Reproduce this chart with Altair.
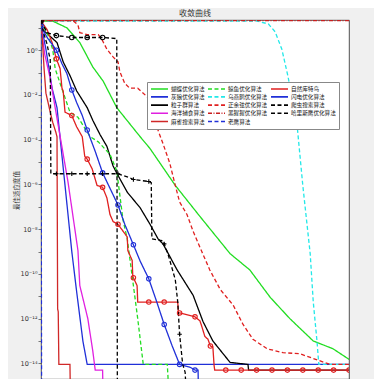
import altair as alt
import pandas as pd

# ---- series names (legend fills column by column, 3 columns) ----
names = ["蝴蝶优化算法", "灰狼优化算法", "粒子群算法", "海洋捕食算法", "麻雀搜索算法",
         "鲸鱼优化算法", "乌燕鸥优化算法", "正余弦优化算法", "黑猩猩优化算法", "老鹰算法",
         "自然库特鸟", "闪电优化算法", "爬虫搜索算法", "哈里斯鹰优化算法"]
colors = ["#22dd22", "#2030d8", "#000000", "#e020e0", "#d02828",
          "#22dd22", "#22e8e8", "#e02020", "#c81e1e", "#2030d8",
          "#e02020", "#2030d8", "#000000", "#000000"]
SOLID, DASH, DASHDOT = [1, 0], [4, 2.5], [4, 1.5, 1, 1.5]
dashes = [SOLID, SOLID, SOLID, SOLID, SOLID,
          DASH, DASH, DASH, DASHDOT, DASH,
          SOLID, SOLID, DASH, DASH]
marker_names = ["自然库特鸟", "闪电优化算法", "爬虫搜索算法", "哈里斯鹰优化算法"]
PLUS = "M-1,0L1,0M0,-1L0,1"
marker_shapes = ["circle", "circle", "circle", PLUS]

# ---- convergence data (iteration, best fitness) ----
butterfly_it = [0, 19, 42, 63, 84, 101, 123, 161, 177, 218, 258, 307, 339, 372, 404, 442, 474, 498, 500]
butterfly_val = [20, 20, 10, 2.2, 0.18, 0.041, 0.0027, 1.35e-4, 4e-5, 9e-7, 3.7e-8, 8e-10, 1.5e-10, 9e-12,
                 1e-12, 1e-13, 4.5e-14, 1.65e-14, 1.5e-14]

wolf_it = [0, 8, 18, 26, 39, 50, 58, 68, 75, 500]
wolf_val = [15, 1.1, 0.02, 0.0027, 9e-7, 1e-9, 1.5e-11, 1e-13, 9e-15, 9e-15]

pso_it = [0, 3, 26, 36, 47, 58, 75, 84, 96, 107, 117, 125, 140, 161, 177, 190, 198, 221, 247, 263, 279, 307,
          336, 337, 500]
pso_val = [20, 8.2, 2.2, 0.30, 0.074, 0.015, 0.0027, 7.4e-4, 1.65e-4, 5e-5, 6.7e-6, 2.5e-6, 4.5e-7, 9e-8,
           1.65e-8, 3.7e-9, 2.2e-9, 1.5e-10, 1.1e-11, 7.4e-13, 1e-13, 1.1e-14, 9e-15, 5e-15, 5e-15]

marine_it = [0, 6, 15, 23, 44, 60, 63, 76, 84, 88, 100, 101, 500]
marine_val = [12, 0.67, 0.055, 0.0027, 1.2e-6, 1.1e-9, 3e-11, 1e-12, 3.7e-14, 5e-15, 5e-15, 1e-16, 1e-16]

sparrow_it = [0, 2, 5, 8, 15, 19, 24, 26, 27, 28, 29, 47, 48, 500]
sparrow_val = [20, 3.7, 0.15, 0.012, 0.0017, 6e-4, 2.2e-4, 1.35e-4, 2.7e-12, 2e-12, 9e-15, 9e-15, 1e-16, 1e-16]

whale_it = [0, 11, 19, 23, 31, 47, 60, 80, 93, 112, 123, 133, 140, 150, 157, 166, 205, 209, 500]
whale_val = [20, 5, 1.1, 0.15, 0.033, 0.0017, 1e-3, 1.35e-4, 8e-5, 2.2e-5, 4e-6, 2.7e-8, 3.7e-9, 3e-11,
             1e-12, 9e-15, 9e-15, 1e-16, 1e-16]

tern_it = [0, 351, 369, 380, 391, 401, 416, 425, 437, 442, 448, 451, 500]
tern_val = [20, 20, 15, 6.7, 1.1, 0.067, 3.7e-4, 9e-7, 8e-10, 5.5e-12, 1e-13, 9e-15, 9e-15]

sca_it = [0, 52, 60, 63, 75, 93, 99, 107, 117, 125, 128, 136, 144, 157, 166, 174, 182, 188, 198, 209, 218,
          225, 237, 247, 261, 274, 291, 312, 328, 344, 367, 393, 420, 442, 469, 500]
sca_val = [21, 21, 13.5, 6.1, 5, 5, 3, 1.1, 0.5, 0.30, 0.11, 0.033, 0.02, 0.02, 0.012, 0.0074, 1e-3, 3.7e-4,
           6.7e-5, 9e-6, 9e-7, 1.65e-7, 4.5e-8, 8e-9, 1e-9, 1.5e-10, 2e-11, 4e-12, 5.5e-13, 1.2e-13,
           4.5e-14, 3e-14, 2.7e-14, 1.65e-14, 9e-15, 9e-15]

chimp_it = [0, 500]
chimp_val = [21, 21]

eagle_it = [0, 1, 500]
eagle_val = [21, 1e-16, 1e-16]

coot_it = [0, 10, 18, 25, 31, 34, 36, 39, 50, 58, 67, 71, 75, 83, 91, 100, 107, 112, 117, 125, 140, 141, 148,
           149, 150, 156, 157, 175, 200, 222, 223, 225, 250, 258, 261, 266, 271, 275, 279, 281, 282, 300, 325,
           350, 375, 400, 425, 450, 475, 500]
coot_val = [20, 8.2, 2.2, 0.41, 0.15, 0.02, 0.015, 0.0017, 1.2e-3, 3.7e-4, 1.35e-4, 1.8e-5, 1.35e-5, 5e-6,
            9e-7, 7.4e-7, 2.5e-7, 4.5e-8, 2.2e-8, 1.65e-8, 4.5e-9, 1.1e-9, 4e-10, 8e-11, 6.7e-11, 3e-11,
            5.5e-12, 5.5e-12, 5.5e-12, 5.5e-12, 1.8e-12, 1.8e-12, 1.2e-12, 8e-13, 4.5e-13, 1.6e-13, 1.2e-13,
            6e-14, 5.5e-14, 8e-15, 5e-15, 5e-15, 5e-15, 5e-15, 5e-15, 5e-15, 5e-15, 5e-15, 5e-15, 5e-15]

lightning_it = [0, 10, 25, 34, 42, 50, 58, 67, 75, 88, 100, 112, 125, 136, 150, 161, 175, 188, 200, 213, 225,
                242, 250, 255, 256, 500]
lightning_val = [12, 3.7, 1.0, 0.25, 0.091, 0.0166, 0.0045, 1.2e-3, 2.7e-4, 3e-5, 3.3e-6, 6.7e-7, 1.2e-7,
                 1.65e-8, 2e-9, 3.7e-10, 6e-11, 5.5e-12, 5.5e-13, 6e-14, 9e-15, 6.7e-15, 5e-15, 5e-15,
                 1e-16, 1e-16]

crawler_it = [0, 10, 25, 50, 75, 100, 123, 124, 500]
crawler_val = [20, 6.1, 4.5, 3.7, 3.7, 3.7, 3.3, 1e-16, 1e-16]

harris_it = [0, 5, 10, 13, 15, 16, 25, 50, 75, 100, 125, 144, 150, 175, 179, 180, 198, 200, 206, 218, 222,
             225, 230, 234, 237, 500]
harris_val = [20, 5, 1.8, 0.67, 0.41, 3e-6, 3e-6, 3e-6, 3e-6, 3e-6, 3e-6, 2e-6, 1.65e-6, 1.35e-6, 1.2e-6,
              3.7e-9, 3e-9, 2.2e-9, 8e-10, 5.5e-11, 5.5e-12, 2e-13, 9e-15, 4e-15, 1e-16, 1e-16]

series = [
    ("蝴蝶优化算法", butterfly_it, butterfly_val),
    ("灰狼优化算法", wolf_it, wolf_val),
    ("粒子群算法", pso_it, pso_val),
    ("海洋捕食算法", marine_it, marine_val),
    ("麻雀搜索算法", sparrow_it, sparrow_val),
    ("鲸鱼优化算法", whale_it, whale_val),
    ("乌燕鸥优化算法", tern_it, tern_val),
    ("正余弦优化算法", sca_it, sca_val),
    ("黑猩猩优化算法", chimp_it, chimp_val),
    ("老鹰算法", eagle_it, eagle_val),
    ("自然库特鸟", coot_it, coot_val),
    ("闪电优化算法", lightning_it, lightning_val),
    ("爬虫搜索算法", crawler_it, crawler_val),
    ("哈里斯鹰优化算法", harris_it, harris_val),
]

rows = []
for k, (nm, its, vals) in enumerate(series):
    for i, v in zip(its, vals):
        rows.append({"alg": nm, "it": i, "val": v, "z": k})
df = pd.DataFrame(rows)

# y axis labels like MATLAB (10^0, 10^-2, ...)
sup = {"0": "⁰", "1": "¹", "2": "²", "4": "⁴", "6": "⁶", "8": "⁸", "-": "⁻"}
decades = [10.0 ** e for e in range(-14, 2)]
parts = []
for e in range(-14, 1, 2):
    lab = "10" + "".join(sup[c] for c in str(e))
    parts.append(f"round(log(datum.value)/LN10) == {e} ? '{lab}'")
label_expr = " : ".join(parts) + " : ''"

FONT_CJK = "Noto Sans CJK SC"
YDOM = [2e-15, 22.4]

x_enc = alt.X("it:Q", scale=alt.Scale(domain=[0, 500], nice=False, zero=False), axis=None)
y_enc = alt.Y("val:Q",
              scale=alt.Scale(type="log", domain=YDOM, nice=False),
              axis=alt.Axis(values=decades, labelExpr=label_expr, grid=False, domain=False,
                            tickSize=3, tickColor="#262626", tickWidth=0.6,
                            labelFont="DejaVu Sans", labelFontSize=6.5, labelColor="#333333",
                            labelPadding=1, title="最佳适应度值", titleFont=FONT_CJK,
                            titleFontSize=6.5, titleFontWeight="normal", titleColor="#333333",
                            titleX=-22, titleY=170))

leg = alt.Legend(orient="none", legendX=106, legendY=62, columns=3, title=None,
                 symbolType="stroke", symbolSize=290, symbolStrokeWidth=1.6,
                 labelFont=FONT_CJK, labelFontSize=5.6, labelColor="#111111",
                 clipHeight=7.4, rowPadding=0.2, columnPadding=2, padding=3,
                 labelOffset=2, fillColor="white", strokeColor="#888888", labelLimit=120)

lines = alt.Chart(df).mark_line(clip=True, strokeWidth=1.3).encode(
    x=x_enc,
    y=y_enc,
    color=alt.Color("alg:N", scale=alt.Scale(domain=names, range=colors), legend=leg),
    strokeDash=alt.StrokeDash("alg:N", scale=alt.Scale(domain=names, range=dashes), legend=leg),
    order=alt.Order("it:Q"),
)

markers = alt.Chart(df).transform_filter(
    alt.FieldOneOfPredicate(field="alg", oneOf=marker_names)
).transform_filter(
    "datum.it % 25 == 0"
).mark_point(clip=True, filled=False, size=20, strokeWidth=1.1, opacity=1).encode(
    x=x_enc,
    y=alt.Y("val:Q", scale=alt.Scale(type="log", domain=YDOM, nice=False)),
    color=alt.Color("alg:N", scale=alt.Scale(domain=names, range=colors), legend=None),
    shape=alt.Shape("alg:N", scale=alt.Scale(domain=marker_names, range=marker_shapes), legend=None),
)

chart = alt.layer(lines, markers).properties(
    width=308, height=359,
    padding={"left": 33, "top": 12, "right": 25, "bottom": 0},
    autosize=alt.AutoSizeParams(type="none"),
    background="#f0f0f0",
    title=alt.TitleParams("收敛曲线", font=FONT_CJK, fontSize=8, fontWeight="normal",
                          color="#333333", offset=2, anchor="middle"),
).configure_view(stroke="#262626", strokeWidth=0.8, fill="white")

chart.save("out.html", embed_options={"renderer": "svg", "actions": False})
